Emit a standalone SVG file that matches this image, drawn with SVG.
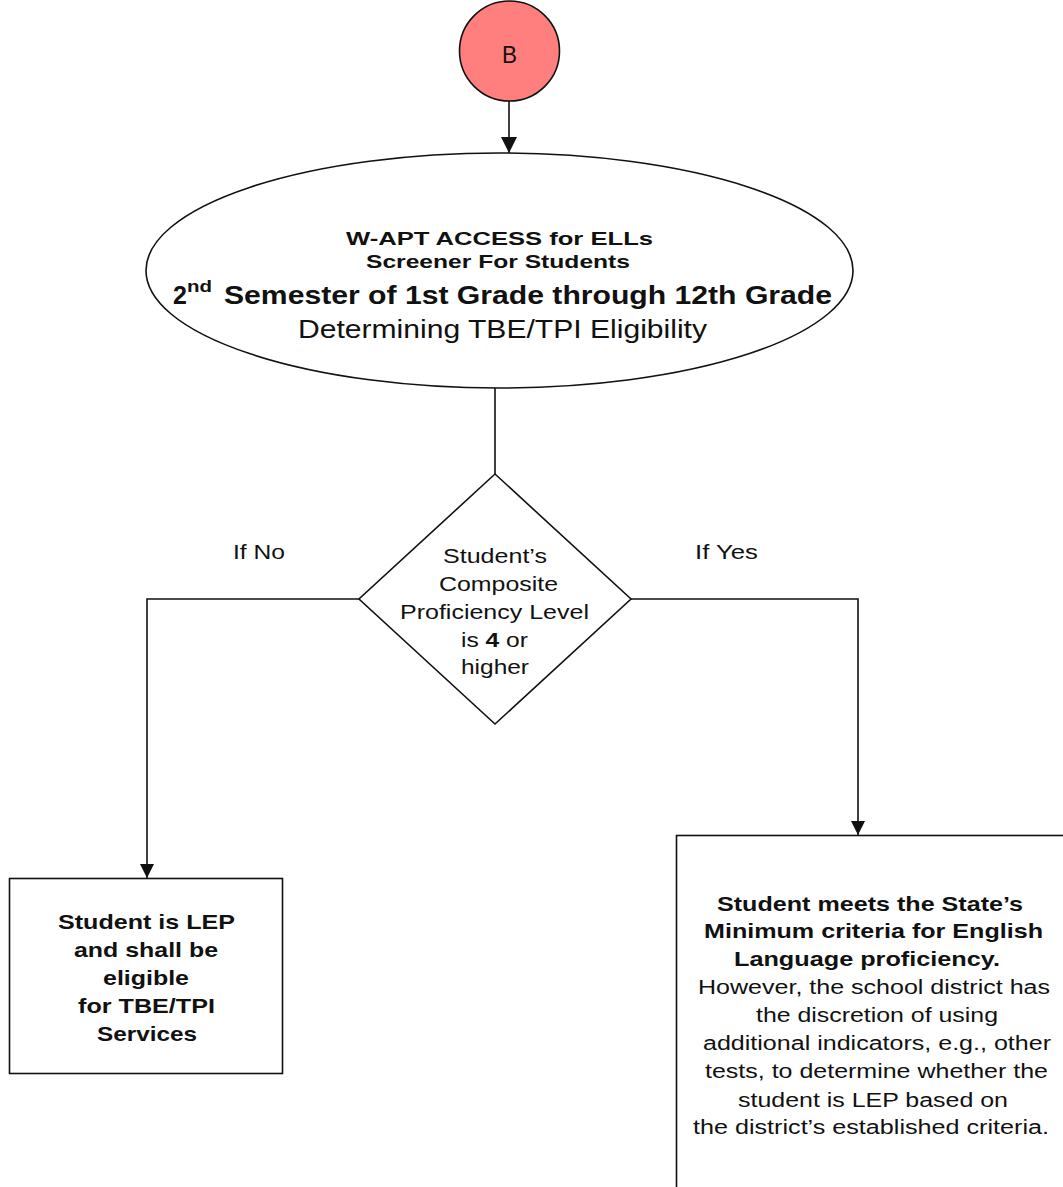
<svg xmlns="http://www.w3.org/2000/svg" width="1063" height="1187" viewBox="0 0 1063 1187">
<defs>
<style>
.t{font-family:"Liberation Sans",Arial,sans-serif;fill:#111;}
.b{font-weight:bold;}
.shape{fill:#fff;stroke:#111;stroke-width:1.6;}
.conn{fill:none;stroke:#111;stroke-width:1.6;}
</style>
<marker id="arrL" viewBox="0 0 16 16" refX="16" refY="8" markerWidth="16" markerHeight="16" markerUnits="userSpaceOnUse" orient="auto"><path d="M0,0 L16,8 L0,16 Z" fill="#111"/></marker>
<marker id="arrS" viewBox="0 0 14 14" refX="14" refY="7" markerWidth="14" markerHeight="14" markerUnits="userSpaceOnUse" orient="auto"><path d="M0,0 L14,7 L0,14 Z" fill="#111"/></marker>
</defs>
<rect width="1063" height="1187" fill="#fff"/>

<g id="connectors">
<line class="conn" x1="509" y1="101" x2="509" y2="153" marker-end="url(#arrL)"/>
<line class="conn" x1="495" y1="388" x2="495" y2="474"/>
<polyline class="conn" points="359,599 147,599 147,878" marker-end="url(#arrS)"/>
<polyline class="conn" points="631,599 858,599 858,835" marker-end="url(#arrS)"/>
<text class="t" x="233" y="559" font-size="21" textLength="52" lengthAdjust="spacingAndGlyphs">If No</text>
<text class="t" x="695" y="559" font-size="21" textLength="63" lengthAdjust="spacingAndGlyphs">If Yes</text>
</g>

<g id="node-B">
<circle cx="509.5" cy="51" r="50" fill="#ff7f7f" stroke="#111" stroke-width="1.6"/>
<text class="t" x="502" y="63" font-size="24" textLength="15" lengthAdjust="spacingAndGlyphs">B</text>
</g>

<g id="node-screener">
<ellipse class="shape" cx="499.5" cy="270.5" rx="353.5" ry="117.5" stroke="#333" stroke-width="1.3"/>
<text class="t b" x="346" y="245" font-size="18.5" textLength="307" lengthAdjust="spacingAndGlyphs">W-APT ACCESS for ELLs</text>
<text class="t b" x="366" y="268" font-size="18.5" textLength="264" lengthAdjust="spacingAndGlyphs">Screener For Students</text>
<text class="t b" x="173" y="304" font-size="25">2</text>
<text class="t b" x="187" y="292" font-size="17" textLength="25" lengthAdjust="spacingAndGlyphs">nd</text>
<text class="t b" x="224" y="304" font-size="25" textLength="608" lengthAdjust="spacingAndGlyphs">Semester of 1st Grade through 12th Grade</text>
<text class="t" x="298" y="338" font-size="25" textLength="409" lengthAdjust="spacingAndGlyphs">Determining TBE/TPI Eligibility</text>
</g>

<g id="node-decision">
<polygon class="shape" points="495,474 631,599 495,724 359,599"/>
<text class="t" x="443" y="563" font-size="21" textLength="104" lengthAdjust="spacingAndGlyphs">Student’s</text>
<text class="t" x="439" y="591" font-size="21" textLength="119" lengthAdjust="spacingAndGlyphs">Composite</text>
<text class="t" x="400" y="619" font-size="21" textLength="189" lengthAdjust="spacingAndGlyphs">Proficiency Level</text>
<text class="t" x="461" y="647" font-size="21" textLength="67" lengthAdjust="spacingAndGlyphs">is <tspan class="b">4</tspan> or</text>
<text class="t" x="461" y="674" font-size="21" textLength="68" lengthAdjust="spacingAndGlyphs">higher</text>
</g>

<g id="node-lep">
<rect class="shape" x="9.5" y="878.5" width="273" height="195"/>
<text class="t b" x="58" y="929" font-size="21" textLength="177" lengthAdjust="spacingAndGlyphs">Student is LEP</text>
<text class="t b" x="74" y="957" font-size="21" textLength="144" lengthAdjust="spacingAndGlyphs">and shall be</text>
<text class="t b" x="103" y="985" font-size="21" textLength="86" lengthAdjust="spacingAndGlyphs">eligible</text>
<text class="t b" x="78" y="1013" font-size="21" textLength="137" lengthAdjust="spacingAndGlyphs">for TBE/TPI</text>
<text class="t b" x="97" y="1041" font-size="21" textLength="100" lengthAdjust="spacingAndGlyphs">Services</text>
</g>

<g id="node-meets">
<rect class="shape" x="676.5" y="835.5" width="420" height="400"/>
<text class="t b" x="717" y="911" font-size="21" textLength="306" lengthAdjust="spacingAndGlyphs">Student meets the State’s</text>
<text class="t b" x="704" y="938" font-size="21" textLength="339" lengthAdjust="spacingAndGlyphs">Minimum criteria for English</text>
<text class="t b" x="734" y="966" font-size="21" textLength="266" lengthAdjust="spacingAndGlyphs">Language proficiency.</text>
<text class="t" x="698" y="994" font-size="20" textLength="352" lengthAdjust="spacingAndGlyphs">However, the school district has</text>
<text class="t" x="756" y="1022" font-size="20" textLength="242" lengthAdjust="spacingAndGlyphs">the discretion of using</text>
<text class="t" x="703" y="1050" font-size="20" textLength="348" lengthAdjust="spacingAndGlyphs">additional indicators, e.g., other</text>
<text class="t" x="705" y="1078" font-size="20" textLength="343" lengthAdjust="spacingAndGlyphs">tests, to determine whether the</text>
<text class="t" x="738" y="1107" font-size="20" textLength="270" lengthAdjust="spacingAndGlyphs">student is LEP based on</text>
<text class="t" x="693" y="1134" font-size="20" textLength="356" lengthAdjust="spacingAndGlyphs">the district’s established criteria.</text>
</g>
</svg>
